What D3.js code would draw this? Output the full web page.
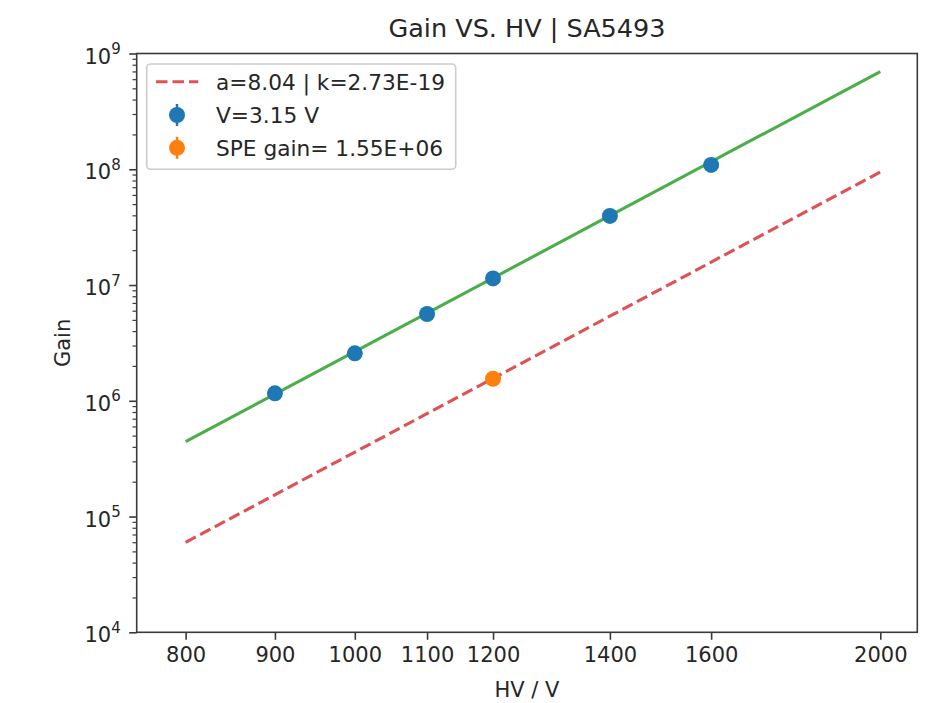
<!DOCTYPE html>
<html>
<head>
<meta charset="utf-8">
<script src="https://cdn.jsdelivr.net/npm/d3@7/dist/d3.min.js"></script>
<style>
  html, body { margin: 0; padding: 0; background: #ffffff; }
  svg { display: block; }
  text { font-family: "DejaVu Sans", sans-serif; fill: #262626; }
</style>
</head>
<body>
<svg id="chart" width="947" height="703"></svg>
<script>
// Measured gain of the PMT at each high voltage setting
const hvPoints = [900, 1000, 1100, 1200, 1400, 1600];
const gainPoints = [1.16e6, 2.57e6, 5.62e6, 1.14e7, 3.95e7, 1.09e8];

// Single photo-electron gain measurement
const speHV = [1200];
const speGain = [1.55e6];

// Power-law model G = k * HV^a
const fitA = 8.04;
const fitK = 2.73e-19;
const modelHV = [800, 2000];

// Fitted curve through the measured points
const fitLineHV = [800, 2000];
const fitLineGain = [4.43e5, 6.97e8];

// Axis ticks
const xTicks = [800, 900, 1000, 1100, 1200, 1400, 1600, 2000];
const yTickExponents = [4, 5, 6, 7, 8, 9];

const legendLabels = ["a=8.04 | k=2.73E-19", "V=3.15 V", "SPE gain= 1.55E+06"];

const svg = d3.select("#chart");
const frame = { left: 136.7, right: 917.3, top: 53.5, bottom: 632.3 };

const x = d3.scaleLog().domain([750, 2100]).range([frame.left, frame.right]);
const y = d3.scaleLog().domain([1e4, 1e9]).range([frame.bottom, frame.top]);

const colBlue = "#1f77b4", colOrange = "#ff7f0e", colGreen = "#2ca02c", colRed = "#d62728";
const lineW = 3.1;
const markerR = 8;
const axisColor = "#3a3a3a";

const lineGen = d3.line().x(d => x(d[0])).y(d => y(d[1]));

// Model line G = k * V^a (dashed)
const modelPts = modelHV.map(v => [v, fitK * Math.pow(v, fitA)]);
svg.append("path")
  .attr("d", lineGen(modelPts))
  .attr("fill", "none")
  .attr("stroke", colRed)
  .attr("stroke-opacity", 0.8)
  .attr("stroke-width", lineW)
  .attr("stroke-dasharray", "11.5,5");

// Fit line through the measurements
svg.append("path")
  .attr("d", lineGen(fitLineHV.map((v, i) => [v, fitLineGain[i]])))
  .attr("fill", "none")
  .attr("stroke", colGreen)
  .attr("stroke-opacity", 0.85)
  .attr("stroke-width", lineW);

// Measured points
svg.append("g").selectAll("circle")
  .data(hvPoints.map((v, i) => [v, gainPoints[i]]))
  .join("circle")
  .attr("cx", d => x(d[0]))
  .attr("cy", d => y(d[1]))
  .attr("r", markerR)
  .attr("fill", colBlue);

// SPE point
svg.append("g").selectAll("circle")
  .data(speHV.map((v, i) => [v, speGain[i]]))
  .join("circle")
  .attr("cx", d => x(d[0]))
  .attr("cy", d => y(d[1]))
  .attr("r", markerR)
  .attr("fill", colOrange);

// Axes frame
svg.append("rect")
  .attr("x", frame.left).attr("y", frame.top)
  .attr("width", frame.right - frame.left)
  .attr("height", frame.bottom - frame.top)
  .attr("fill", "none")
  .attr("stroke", axisColor)
  .attr("stroke-width", 1.6);

// X axis
const xAxis = d3.axisBottom(x)
  .tickValues(xTicks)
  .tickFormat(d3.format("d"))
  .tickSize(7.5)
  .tickPadding(7);
const gx = svg.append("g")
  .attr("transform", `translate(0,${frame.bottom})`)
  .call(xAxis);
gx.select(".domain").remove();
gx.selectAll(".tick line").attr("stroke", axisColor).attr("stroke-width", 1.6);
gx.selectAll(".tick text")
  .attr("font-size", 21)
  .attr("font-family", "DejaVu Sans")
  .attr("fill", "#262626");

// Y axis: major decades with superscript labels, minor ticks in between
const yMajor = yTickExponents.map(e => Math.pow(10, e));
const yMinor = [];
yTickExponents.slice(0, -1).forEach(e => {
  for (let m = 2; m <= 9; m++) yMinor.push(m * Math.pow(10, e));
});
const yAxis = d3.axisLeft(y).tickValues(yMajor).tickSize(7.5).tickFormat("");
const gy = svg.append("g").attr("transform", `translate(${frame.left},0)`).call(yAxis);
gy.select(".domain").remove();
gy.selectAll(".tick line").attr("stroke", axisColor).attr("stroke-width", 1.6);

const yAxisMinor = d3.axisLeft(y).tickValues(yMinor).tickSize(4.2).tickFormat("");
const gyMinor = svg.append("g").attr("transform", `translate(${frame.left},0)`).call(yAxisMinor);
gyMinor.select(".domain").remove();
gyMinor.selectAll(".tick line").attr("stroke", axisColor).attr("stroke-width", 1.2);

const yLabels = svg.append("g");
yTickExponents.forEach(e => {
  const t = yLabels.append("text")
    .attr("x", frame.left - 16)
    .attr("y", y(Math.pow(10, e)) + 10)
    .attr("text-anchor", "end")
    .attr("font-size", 21);
  t.append("tspan").text("10");
  t.append("tspan").attr("font-size", 15).attr("dy", -9.5).text(String(e));
});

// Axis titles
svg.append("text")
  .attr("x", (frame.left + frame.right) / 2)
  .attr("y", 697)
  .attr("text-anchor", "middle")
  .attr("font-size", 21)
  .text("HV / V");

svg.append("text")
  .attr("transform", `translate(69.5,${(frame.top + frame.bottom) / 2}) rotate(-90)`)
  .attr("text-anchor", "middle")
  .attr("font-size", 21)
  .text("Gain");

// Title
svg.append("text")
  .attr("x", (frame.left + frame.right) / 2)
  .attr("y", 37)
  .attr("text-anchor", "middle")
  .attr("font-size", 25.5)
  .text("Gain VS. HV | SA5493");

// Legend
const lg = svg.append("g");
lg.append("rect")
  .attr("x", 146.7).attr("y", 64)
  .attr("width", 309).attr("height", 105.3)
  .attr("rx", 4).attr("ry", 4)
  .attr("fill", "#ffffff").attr("fill-opacity", 0.8)
  .attr("stroke", "#cccccc").attr("stroke-width", 1.6);

const rowY = [81.7, 115, 147.8];
const handleX0 = 156, handleX1 = 198.3, handleMid = 177;

lg.append("line")
  .attr("x1", handleX0).attr("x2", handleX1)
  .attr("y1", rowY[0]).attr("y2", rowY[0])
  .attr("stroke", colRed).attr("stroke-opacity", 0.8)
  .attr("stroke-width", lineW)
  .attr("stroke-dasharray", "11.5,5");

[[rowY[1], colBlue], [rowY[2], colOrange]].forEach(([cy, c]) => {
  lg.append("line")
    .attr("x1", handleMid).attr("x2", handleMid)
    .attr("y1", cy - 11).attr("y2", cy + 11)
    .attr("stroke", c).attr("stroke-width", 2.5);
  lg.append("circle")
    .attr("cx", handleMid).attr("cy", cy).attr("r", markerR).attr("fill", c);
});

legendLabels.forEach((s, i) => {
  lg.append("text")
    .attr("x", 216)
    .attr("y", rowY[i] + 7.8)
    .attr("font-size", 21.7)
    .text(s);
});
</script>
</body>
</html>
